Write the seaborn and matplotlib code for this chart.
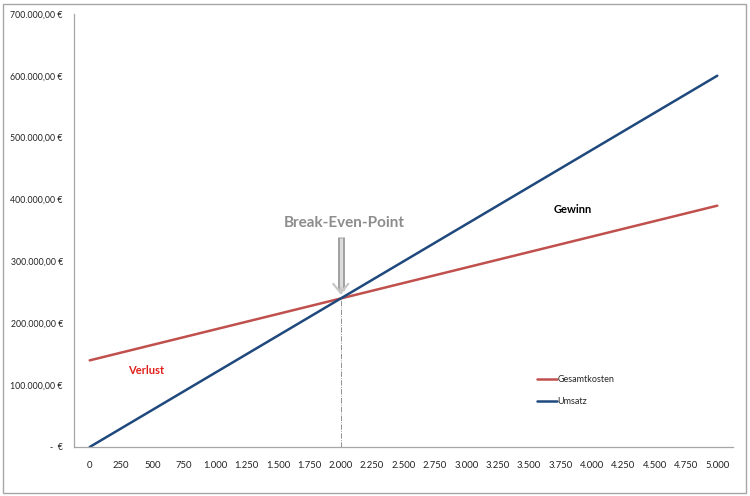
import seaborn as sns
import pandas as pd
import matplotlib.pyplot as plt
from matplotlib.patches import Rectangle
from matplotlib.ticker import FuncFormatter

menge = [0, 250, 500, 750, 1000, 1250, 1500, 1750, 2000, 2250, 2500,
         2750, 3000, 3250, 3500, 3750, 4000, 4250, 4500, 4750, 5000]
gesamtkosten = [140000, 152500, 165000, 177500, 190000, 202500, 215000,
                227500, 240000, 252500, 265000, 277500, 290000, 302500,
                315000, 327500, 340000, 352500, 365000, 377500, 390000]
umsatz = [0, 30000, 60000, 90000, 120000, 150000, 180000, 210000, 240000,
          270000, 300000, 330000, 360000, 390000, 420000, 450000, 480000,
          510000, 540000, 570000, 600000]
y_ticks = [0, 100000, 200000, 300000, 400000, 500000, 600000, 700000]
break_even = (2000, 240000)

data = pd.DataFrame({
    "Menge": menge * 2,
    "Wert": gesamtkosten + umsatz,
    "Reihe": ["Gesamtkosten"] * len(menge) + ["Umsatz"] * len(menge),
})

sns.set_theme(style="white")
plt.rcParams["font.family"] = ["Lato", "DejaVu Sans"]

f = plt.figure(figsize=[7.5, 4.96], dpi=100)
ax = f.add_axes([0.0987, 0.0988, 0.8786, 0.8733])
sns.lineplot(x="Menge", y="Wert", hue="Reihe", data=data,
             palette=["#C0504D", "#1F497D"], linewidth=1.8, ax=ax)

ax.set_xlim(-125, 5125)
ax.set_ylim(0, 700000)
ax.set_xticks(menge)
ax.set_yticks(y_ticks)


def euro(v, pos):
    if v == 0:
        return "-  €"
    return f"{v:,.2f}".replace(",", "X").replace(".", ",").replace("X", ".") + " €"


ax.xaxis.set_major_formatter(FuncFormatter(lambda v, p: f"{int(v):,}".replace(",", ".")))
ax.yaxis.set_major_formatter(FuncFormatter(euro))
ax.tick_params(axis="both", labelsize=6.8, length=0, colors="#222222")
ax.tick_params(axis="x", pad=10)
ax.tick_params(axis="y", pad=8, labelsize=6.3)
sns.despine(ax=ax)
for s in ["left", "bottom"]:
    ax.spines[s].set_color("#a6a6a6")
    ax.spines[s].set_linewidth(0.9)
ax.set_xlabel("")
ax.set_ylabel("")

# Break-even markers
ax.plot([break_even[0], break_even[0]], [0, break_even[1]],
        color="#808080", linestyle="-.", linewidth=0.6)
# hollow arrow: double-line shaft + chevron head
ax.plot([break_even[0], break_even[0]], [254000, 339000],
        color="#a0a0a0", linewidth=5, solid_capstyle="butt", zorder=4)
ax.plot([break_even[0], break_even[0]], [255000, 338000],
        color="#dcdcdc", linewidth=2.2, solid_capstyle="butt", zorder=5)
ax.annotate("", xy=(break_even[0], break_even[1] + 1500),
            xytext=(break_even[0], 262000),
            arrowprops=dict(arrowstyle="->,head_length=0.55,head_width=0.45",
                            color="#c8c8c8", linewidth=1.6), zorder=5)
ax.text(break_even[0] + 30, 362000, "Break-Even-Point", ha="center", va="center",
        fontsize=11, fontweight="bold", color="#8c8c8c")
ax.text(3850, 383000, "Gewinn", ha="center", va="center",
        fontsize=8, fontweight="bold", color="black")
ax.text(450, 123000, "Verlust", ha="center", va="center",
        fontsize=8, fontweight="bold", color="#E0201B")

leg = ax.legend(loc="lower left", bbox_to_anchor=(0.69, 0.075), frameon=False,
                fontsize=6.5, handlelength=2.2, handletextpad=0.1,
                labelspacing=1.5, title=None)

f.patches.append(Rectangle((0.004, 0.006), 0.99, 0.986, transform=f.transFigure,
                           fill=False, edgecolor="#a6a6a6", linewidth=1))
f.savefig("out.png", dpi=100)
